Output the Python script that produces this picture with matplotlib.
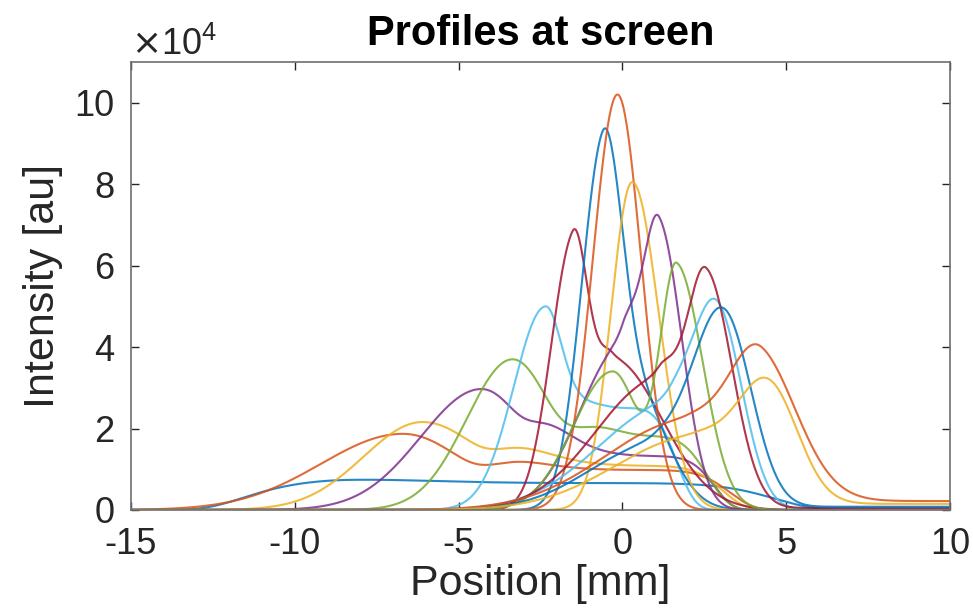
import numpy as np
import matplotlib
matplotlib.use("Agg")
import matplotlib.pyplot as plt
from math import erf

plt.rcParams['font.family'] = ['Liberation Sans', 'DejaVu Sans']

# Beam profiles at the screen (intensity in units of 1e4, position in mm).
# Each profile = main peak (asymmetric Gaussian) + shoulder/shelf + far tail.
peak_pos = [-8.3, -6.7, -6.1, -4.3, -3.35, -2.35, -1.52, -0.62, -0.15, 0.30,
            1.12, 1.66, 2.95, 2.55, 3.10, 4.25, 4.50]
peak_val = [0.74, 1.87, 2.16, 2.97, 3.70, 5.00, 6.85, 9.27, 10.20, 8.05,
            7.20, 6.07, 5.08, 5.95, 4.95, 4.00, 3.20]
peak_lw = [1.6, 2.5, 1.8, 1.85, 1.4, 0.97, 0.68, 0.68, 0.75, 0.65,
           0.5, 0.5, 0.7, 0.6, 0.9, 0.9, 0.9]
peak_rw = [2.5, 2.0, 2.0, 1.5, 1.3, 0.65, 0.45, 0.55, 0.72, 0.8,
           0.7, 0.8, 0.75, 0.8, 0.85, 1.17, 0.9]

shelf_pos = [-3.7, -0.3, -0.3, 0.1, 0.6, 0.0, -0.3, 0.3, 0.0, 0.0,
             0.0, -0.3, 1.5, 1.1, 1.0, 2.0, 2.2]
shelf_val = [0.66, 0.98, 1.08, 1.32, 1.80, 2.50, 3.70, 3.00, 0.0, 0.0,
             4.00, 3.40, 2.60, 3.20, 1.60, 2.20, 1.80]
shelf_lw = [7.4, 3.3, 3.1, 2.5, 1.8, 1.3, 0.6, 0.8, 1.0, 1.0,
            1.3, 1.2, 2.2, 1.9, 2.0, 2.5, 2.4]
shelf_rw = [7.8, 3.3, 3.1, 2.5, 1.8, 1.5, 1.5, 1.0, 1.0, 1.0,
            0.5, 0.8, 0.9, 0.6, 1.2, 1.5, 1.4]
shelf_pow = [8, 6, 6, 6, 4, 4, 2, 2, 2, 2, 2, 2, 2, 2, 2, 2, 2]

tail_val = [0, 0, 0, 0, 0, 0, 0, 0, 0, 0, 0, 0, 0, 0.05, 0.08, 0.22, 0.15]
tail_from = [0, 0, 0, 0, 0, 0, 0, 0, 0, 0, 0, 0, 0, 4.5, 5.0, 6.0, 6.0]

x_ticks = [-15, -10, -5, 0, 5, 10]
y_ticks = [0, 2, 4, 6, 8, 10]

line_colors = ['#0072BD', '#D95319', '#EDB120', '#7E2F8E',
               '#77AC30', '#4DBEEE', '#A2142F']

verf = np.vectorize(erf)


def lobe(x, pos, amp, lw, rw, p=2):
    d = np.where(x < pos, (x - pos) / lw, (x - pos) / rw)
    return amp * np.exp(-0.5 * np.abs(d) ** p)


def tail(x, amp, start):
    if amp == 0:
        return np.zeros_like(x)
    return amp * 0.5 * (1 + verf((x - start) / 1.0))


x = np.linspace(-15, 10, 1501)

fig = plt.figure(figsize=(9.73, 6.16), dpi=100)
ax = fig.add_axes([0.1346, 0.1721, 0.8418, 0.7273])

for i in range(len(peak_pos)):
    sh = lobe(x, shelf_pos[i], shelf_val[i], shelf_lw[i], shelf_rw[i], shelf_pow[i])
    tl = tail(x, tail_val[i], tail_from[i])
    p0 = np.array([peak_pos[i]])
    base_at_peak = (lobe(p0, shelf_pos[i], shelf_val[i], shelf_lw[i], shelf_rw[i], shelf_pow[i])
                    + tail(p0, tail_val[i], tail_from[i]))[0]
    amp = max(peak_val[i] - base_at_peak, 0.0)
    y = lobe(x, peak_pos[i], amp, peak_lw[i], peak_rw[i]) + sh + tl
    ax.plot(x, y, color=line_colors[i % len(line_colors)], lw=1.5, alpha=0.85)

ax.set_xlim(-15, 10)
ax.set_ylim(0, 11)
ax.set_xticks(x_ticks)
ax.set_yticks(y_ticks)
ax.set_xticklabels([str(v) for v in x_ticks])
ax.set_yticklabels([str(v) for v in y_ticks])
ax.tick_params(direction='in', length=6, width=1.0, top=True, right=True,
               labelsize=26, colors='#262626')
ax.tick_params(axis='x', pad=12)
ax.tick_params(axis='y', pad=12)
for s in ax.spines.values():
    s.set_color('#6e6e6e')
    s.set_linewidth(1.2)

ax.set_xlabel('Position [mm]', fontsize=31, color='#262626', labelpad=2)
ax.set_ylabel('Intensity [au]', fontsize=31, color='#262626', labelpad=8)
ax.set_title('Profiles at screen', fontsize=30, fontweight='bold', pad=12, x=0.5)
ax.text(0.0, 0.997, r'$\times\mathregular{10^{4}}$', transform=ax.transAxes,
        fontsize=26, color='#262626', ha='left', va='bottom')

fig.savefig('out.png', dpi=100)
